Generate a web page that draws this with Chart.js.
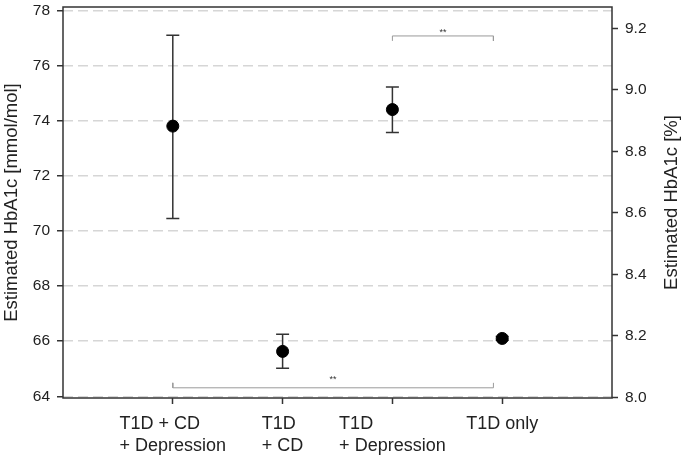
<!DOCTYPE html>
<html>
<head>
<meta charset="utf-8">
<script src="https://cdn.jsdelivr.net/npm/chart.js@4.4.1/dist/chart.umd.min.js"></script>
<style>
html, body { margin: 0; padding: 0; background: #fff; }
#wrap { width: 685px; height: 457px; }
</style>
</head>
<body>
<div id="wrap"><canvas id="myChart"></canvas></div>
<script>
// groups on the x axis (multi-line labels)
var groups = [["T1D + CD", "+ Depression"], ["T1D", "+ CD"], ["T1D", "+ Depression"], ["T1D only"]];
var groupPos = [1, 2, 3, 4];

// estimated HbA1c [mmol/mol] with confidence limits
var meanHbA1c = [73.8, 65.63, 74.4, 66.1];
var lowerCI = [70.45, 65.02, 73.57, 66.03];
var upperCI = [77.1, 66.25, 75.22, 66.17];

// tick labels
var leftTicks = [64, 66, 68, 70, 72, 74, 76, 78];
var rightTicks = [8.0, 8.2, 8.4, 8.6, 8.8, 9.0, 9.2];

// significance brackets
var bracketFrom = [3, 1];
var bracketTo = [3.92, 3.92];
var bracketLevel = [77.07, 64.31];
var bracketTipLevel = [76.89, 64.49];
var bracketTextLevel = [77.28, 64.7];
var bracketText = ["**", "**"];

var FONT = '"Liberation Sans", Arial, sans-serif';

var datasets = [{
    type: 'scatter',
    data: groupPos.map(function (x, i) { return { x: x, y: meanHbA1c[i] }; }),
    backgroundColor: '#000',
    borderColor: '#000',
    pointRadius: 6,
    pointHoverRadius: 6
}];

bracketFrom.forEach(function (x0, i) {
    datasets.push({
        type: 'line',
        data: [
            { x: x0, y: bracketTipLevel[i] },
            { x: x0, y: bracketLevel[i] },
            { x: bracketTo[i], y: bracketLevel[i] },
            { x: bracketTo[i], y: bracketTipLevel[i] }
        ],
        borderColor: '#9a9a9a',
        borderWidth: 1,
        pointRadius: 0,
        fill: false,
        tension: 0
    });
});

// error bars, drawn under the dots
var errorBars = {
    id: 'errorBars',
    beforeDatasetsDraw: function (chart) {
        var ctx = chart.ctx, xs = chart.scales.x, ys = chart.scales.y;
        ctx.save();
        ctx.strokeStyle = '#333';
        ctx.lineWidth = 1.5;
        groupPos.forEach(function (g, i) {
            var x = xs.getPixelForValue(g);
            var y1 = ys.getPixelForValue(lowerCI[i]);
            var y2 = ys.getPixelForValue(upperCI[i]);
            ctx.beginPath();
            ctx.moveTo(x, y1); ctx.lineTo(x, y2);
            ctx.moveTo(x - 6.5, y1); ctx.lineTo(x + 6.5, y1);
            ctx.moveTo(x - 6.5, y2); ctx.lineTo(x + 6.5, y2);
            ctx.stroke();
        });
        ctx.restore();
    }
};

// frame, x labels (left aligned blocks), axis titles, stars
var extras = {
    id: 'extras',
    afterDraw: function (chart) {
        var ctx = chart.ctx, a = chart.chartArea, xs = chart.scales.x, ys = chart.scales.y;
        ctx.save();
        ctx.strokeStyle = '#333';
        ctx.lineWidth = 1.5;
        ctx.strokeRect(a.left, a.top, a.right - a.left, a.bottom - a.top);

        ctx.fillStyle = '#222';
        ctx.font = '18px ' + FONT;
        ctx.textAlign = 'left';
        ctx.textBaseline = 'alphabetic';
        groups.forEach(function (lines, i) {
            var x = xs.getPixelForValue(groupPos[i]);
            var w = Math.max.apply(null, lines.map(function (l) { return ctx.measureText(l).width; }));
            lines.forEach(function (l, j) {
                ctx.fillText(l, x - w / 2, a.bottom + 31 + j * 22);
            });
        });

        var midY = (a.top + a.bottom) / 2;
        ctx.textAlign = 'center';
        ctx.textBaseline = 'middle';
        ctx.font = '18.5px ' + FONT;
        [[12, 'Estimated HbA1c [mmol/mol]'], [672, 'Estimated HbA1c [%]']].forEach(function (t) {
            ctx.save();
            ctx.translate(t[0], midY);
            ctx.rotate(-Math.PI / 2);
            ctx.fillText(t[1], 0, 0);
            ctx.restore();
        });

        ctx.font = '9px ' + FONT;
        ctx.fillStyle = '#333';
        bracketText.forEach(function (s, i) {
            var x = (xs.getPixelForValue(bracketFrom[i]) + xs.getPixelForValue(bracketTo[i])) / 2;
            ctx.fillText(s, x, ys.getPixelForValue(bracketTextLevel[i]) + 2);
        });
        ctx.restore();
    }
};

function noPad(axis) {
    axis.paddingTop = 0;
    axis.paddingBottom = 0;
    axis.paddingLeft = 0;
    axis.paddingRight = 0;
}

var ctx = document.getElementById('myChart').getContext('2d');
var myChart = new Chart(ctx, {
    data: { datasets: datasets },
    options: {
        responsive: true,
        maintainAspectRatio: false,
        animation: false,
        layout: { padding: { top: 5, left: 0, right: 0, bottom: 0 } },
        plugins: { legend: { display: false }, tooltip: { enabled: false } },
        scales: {
            x: {
                type: 'linear',
                min: 0,
                max: 5,
                afterBuildTicks: function (axis) {
                    axis.ticks = groupPos.map(function (v) { return { value: v }; });
                },
                afterFit: function (axis) { axis.height = 59; noPad(axis); },
                ticks: { callback: function () { return ''; }, autoSkip: false },
                grid: { drawOnChartArea: false, tickLength: 6, tickColor: '#333', tickWidth: 1.5 },
                border: { display: false }
            },
            y: {
                position: 'left',
                min: 63.94,
                max: 78.12,
                afterBuildTicks: function (axis) {
                    axis.ticks = leftTicks.map(function (v) { return { value: v }; });
                },
                afterFit: function (axis) { axis.width = 63; noPad(axis); },
                ticks: { autoSkip: false, padding: 7, color: '#222', font: { family: FONT, size: 15.5 } },
                grid: { color: '#d6d6d6', lineWidth: 1.5, tickLength: 6, tickColor: '#333', tickWidth: 1.5, tickBorderDash: [] },
                border: { display: false, dash: [10, 5] }
            },
            y2: {
                position: 'right',
                min: 7.998,
                max: 9.27,
                afterBuildTicks: function (axis) {
                    axis.ticks = rightTicks.map(function (v) { return { value: v }; });
                },
                afterFit: function (axis) { axis.width = 73; noPad(axis); },
                ticks: {
                    autoSkip: false, padding: 7, color: '#222', font: { family: FONT, size: 15.5 },
                    callback: function (v) { return v.toFixed(1); }
                },
                grid: { drawOnChartArea: false, tickLength: 6, tickColor: '#333', tickWidth: 1.5 },
                border: { display: false }
            }
        }
    },
    plugins: [errorBars, extras]
});
</script>
</body>
</html>
